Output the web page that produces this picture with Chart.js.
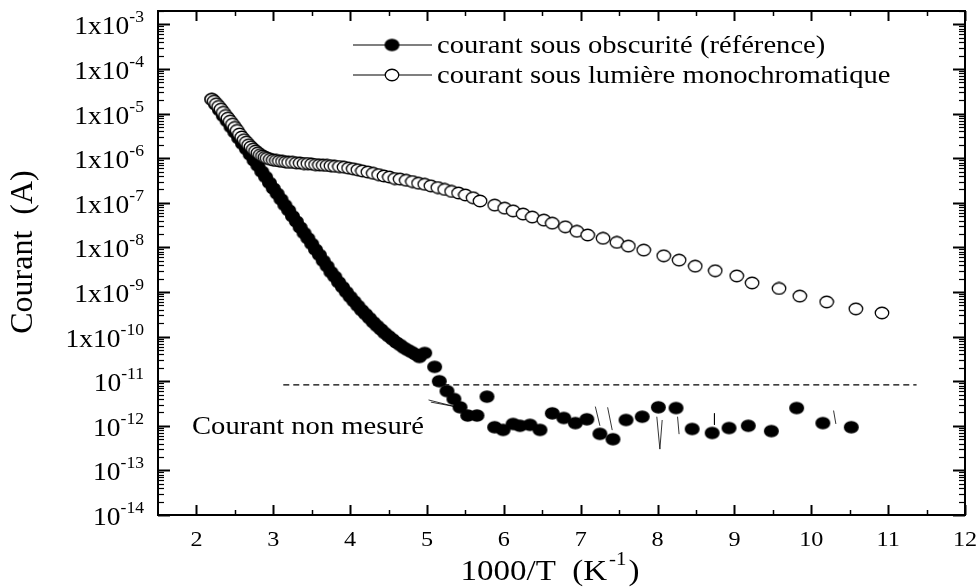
<!DOCTYPE html>
<html>
<head>
<meta charset="utf-8">
<script src="https://cdn.jsdelivr.net/npm/chart.js@4.4.1/dist/chart.umd.min.js"></script>
<style>
  html, body { margin: 0; padding: 0; background: #fff; }
  canvas { display: block; }
</style>
</head>
<body>
<canvas id="myChart" width="977" height="587"></canvas>
<script>
// 1000/T (K^-1) and current (A)
const darkX = [2.20, 2.25, 2.30, 2.35, 2.40, 2.45, 2.50, 2.55, 2.60, 2.65, 2.70, 2.75, 2.80, 2.85, 2.90, 2.95,
  3.00, 3.05, 3.10, 3.15, 3.20, 3.25, 3.30, 3.35, 3.40, 3.45, 3.50, 3.55, 3.60, 3.65, 3.70, 3.75,
  3.80, 3.85, 3.90, 3.95, 4.00, 4.05, 4.10, 4.15, 4.20, 4.25, 4.30, 4.35, 4.40, 4.45, 4.50, 4.55,
  4.60, 4.65, 4.70, 4.75, 4.80, 4.85, 4.90, 4.97,
  5.10, 5.16, 5.26, 5.35, 5.43, 5.53, 5.65, 5.78, 5.88, 5.99, 6.12, 6.21, 6.34, 6.47, 6.63, 6.78,
  6.93, 7.08, 7.25, 7.42, 7.59, 7.80, 8.01, 8.24, 8.45, 8.71, 8.93, 9.18, 9.48, 9.81, 10.15, 10.52];
const darkY = [2.1e-5, 1.6e-5, 1.2e-5, 8.9e-6, 6.8e-6, 5.0e-6, 3.8e-6, 2.8e-6, 2.1e-6, 1.6e-6, 1.2e-6, 8.9e-7, 6.8e-7, 5.0e-7, 3.8e-7, 2.8e-7,
  2.1e-7, 1.6e-7, 1.2e-7, 8.9e-8, 6.8e-8, 5.0e-8, 3.8e-8, 2.8e-8, 2.1e-8, 1.6e-8, 1.2e-8, 8.9e-9, 6.8e-9, 5.0e-9, 3.8e-9, 2.8e-9,
  2.2e-9, 1.66e-9, 1.29e-9, 1.0e-9, 7.8e-10, 6.2e-10, 4.9e-10, 3.9e-10, 3.2e-10, 2.6e-10, 2.1e-10, 1.74e-10, 1.45e-10, 1.2e-10, 1.02e-10, 8.7e-11,
  7.4e-11, 6.5e-11, 5.6e-11, 5.0e-11, 4.5e-11, 4.0e-11, 3.5e-11, 4.3e-11,
  2.1e-11, 1.0e-11, 6.0e-12, 4.0e-12, 2.6e-12, 1.7e-12, 1.7e-12, 4.5e-12, 9.3e-13, 8.1e-13, 1.1e-12, 1.0e-12, 1.05e-12, 8.1e-13, 1.9e-12, 1.5e-12,
  1.15e-12, 1.4e-12, 6.6e-13, 5.0e-13, 1.35e-12, 1.6e-12, 2.6e-12, 2.5e-12, 8.5e-13, 6.9e-13, 8.9e-13, 1.0e-12, 7.6e-13, 2.5e-12, 1.15e-12, 9.3e-13];

const lightX = [2.20, 2.23, 2.26, 2.29, 2.32, 2.35, 2.38, 2.41, 2.44, 2.47, 2.50, 2.53, 2.56, 2.59, 2.62, 2.65,
  2.68, 2.71, 2.74, 2.77, 2.80, 2.83, 2.86, 2.89, 2.92, 2.96, 3.00, 3.04, 3.08, 3.12, 3.16, 3.20,
  3.25, 3.30, 3.35, 3.40, 3.45, 3.50, 3.55, 3.60, 3.65, 3.70, 3.75, 3.80, 3.86, 3.92, 3.98, 4.04,
  4.10, 4.16, 4.23, 4.30, 4.37, 4.44, 4.51, 4.58, 4.65, 4.73, 4.81, 4.89, 4.97, 5.05, 5.14, 5.23,
  5.32, 5.41, 5.50, 5.60, 5.69, 5.88, 6.01, 6.12, 6.25, 6.37, 6.52, 6.63, 6.80, 6.95, 7.09, 7.29,
  7.47, 7.62, 7.82, 8.08, 8.28, 8.49, 8.75, 9.03, 9.23, 9.58, 9.85, 10.20, 10.58, 10.92];
const lightY = [2.1e-5, 1.9e-5, 1.66e-5, 1.45e-5, 1.26e-5, 1.07e-5, 9.1e-6, 7.9e-6, 6.8e-6, 5.8e-6, 4.9e-6, 4.2e-6, 3.5e-6, 3.0e-6, 2.6e-6, 2.3e-6,
  2.0e-6, 1.8e-6, 1.6e-6, 1.45e-6, 1.32e-6, 1.2e-6, 1.12e-6, 1.05e-6, 1.0e-6, 9.5e-7, 9.1e-7, 8.9e-7, 8.7e-7, 8.5e-7, 8.3e-7, 8.1e-7,
  8.1e-7, 7.9e-7, 7.8e-7, 7.6e-7, 7.6e-7, 7.4e-7, 7.2e-7, 7.1e-7, 7.0e-7, 6.9e-7, 6.8e-7, 6.6e-7, 6.5e-7, 6.3e-7, 6.0e-7, 5.8e-7,
  5.5e-7, 5.2e-7, 4.9e-7, 4.6e-7, 4.3e-7, 4.0e-7, 3.8e-7, 3.5e-7, 3.4e-7, 3.2e-7, 3.0e-7, 2.75e-7, 2.6e-7, 2.4e-7, 2.2e-7, 2.0e-7,
  1.8e-7, 1.66e-7, 1.5e-7, 1.3e-7, 1.1e-7, 8.9e-8, 7.6e-8, 6.6e-8, 5.6e-8, 4.8e-8, 4.1e-8, 3.5e-8, 2.9e-8, 2.3e-8, 1.9e-8, 1.6e-8,
  1.3e-8, 1.07e-8, 8.7e-9, 6.5e-9, 5.2e-9, 3.8e-9, 3.0e-9, 2.3e-9, 1.6e-9, 1.2e-9, 8.1e-10, 6.0e-10, 4.2e-10, 3.4e-10];

// thin noisy trace under the dark points, null breaks the line
const traceX = [5.02, 5.36, 5.05, null, 7.19, 7.25, null, 7.35, 7.41, null, 7.99, 8.03, 8.06, null,
  8.26, 8.28, null, 8.74, 8.74, null, 10.29, 10.32];
const traceY = [3.8e-12, 2.7e-12, 3.4e-12, null, 2.7e-12, 1.0e-12, null, 2.6e-12, 8.0e-13, null, 1.6e-12, 3.0e-13, 1.35e-12, null,
  1.6e-12, 6.5e-13, null, 1.9e-12, 1.05e-12, null, 2.2e-12, 1.1e-12];

// measurement floor
const limitX = [3.13, 11.37];
const limitY = [8.3e-12, 8.3e-12];

const xTicks = [2, 3, 4, 5, 6, 7, 8, 9, 10, 11, 12];
const xMinorTicks = [2.5, 3.5, 4.5, 5.5, 6.5, 7.5, 8.5, 9.5, 10.5, 11.5];
const yExponents = [-3, -4, -5, -6, -7, -8, -9, -10, -11, -12, -13, -14];
const legendLabels = ['courant sous obscurité (référence)', 'courant sous lumière monochromatique'];
const noteText = 'Courant non mesuré';
const yTitle = 'Courant  (A)';

const FONT = '"Liberation Serif", "Times New Roman", serif';
const SX = 1.1;

function makeDot(w, h, filled) {
  const c = document.createElement('canvas');
  c.width = Math.ceil(w) + 2;
  c.height = Math.ceil(h) + 2;
  const g = c.getContext('2d');
  g.beginPath();
  g.ellipse(c.width / 2, c.height / 2, w / 2, h / 2, 0, 0, Math.PI * 2);
  g.fillStyle = filled ? '#000' : '#fff';
  g.fill();
  if (!filled) {
    g.lineWidth = 1.3;
    g.strokeStyle = '#000';
    g.stroke();
  }
  return c;
}
const darkDot = makeDot(15, 12.5, true);
const openDot = makeDot(13.5, 11.5, false);

function pts(xs, ys) {
  return xs.map((x, i) => ({ x: x, y: ys[i] }));
}

function text(ctx, s, x, y, size, align) {
  ctx.save();
  ctx.font = size + 'px ' + FONT;
  ctx.textBaseline = 'alphabetic';
  ctx.textAlign = align || 'left';
  ctx.translate(x, y);
  ctx.scale(SX, 1);
  ctx.fillText(s, 0, 0);
  ctx.restore();
}
function textWidth(ctx, s, size) {
  ctx.font = size + 'px ' + FONT;
  return ctx.measureText(s).width * SX;
}

// frame, inward ticks, labels, legend and note
const decorations = {
  id: 'decorations',
  afterDraw(chart) {
    const ctx = chart.ctx;
    const xs = chart.scales.x, ys = chart.scales.y;
    const a = chart.chartArea;
    ctx.save();
    ctx.fillStyle = '#000';
    ctx.strokeStyle = '#000';

    // ticks
    function tick(x1, y1, x2, y2, w) {
      ctx.lineWidth = w;
      ctx.beginPath();
      ctx.moveTo(x1, y1);
      ctx.lineTo(x2, y2);
      ctx.stroke();
    }
    xTicks.forEach(v => {
      const px = Math.round(xs.getPixelForValue(v)) + 0.5;
      tick(px, a.bottom, px, a.bottom - 10, 2);
      tick(px, a.top, px, a.top + 10, 2);
    });
    xMinorTicks.forEach(v => {
      const px = Math.round(xs.getPixelForValue(v)) + 0.5;
      tick(px, a.bottom, px, a.bottom - 5, 1.5);
      tick(px, a.top, px, a.top + 5, 1.5);
    });
    yExponents.forEach(e => {
      const py = Math.round(ys.getPixelForValue(Math.pow(10, e))) + 0.5;
      tick(a.left, py, a.left + 12, py, 2);
      tick(a.right, py, a.right - 12, py, 2);
      for (let k = 2; k <= 9; k++) {
        const v = k * Math.pow(10, e);
        if (v > ys.max) continue;
        const pm = Math.round(ys.getPixelForValue(v)) + 0.5;
        tick(a.left, pm, a.left + 6, pm, 1.2);
        tick(a.right, pm, a.right - 6, pm, 1.2);
      }
    });

    // frame
    ctx.lineWidth = 2;
    ctx.strokeRect(a.left, a.top, a.right - a.left, a.bottom - a.top);

    // x tick labels
    xTicks.forEach(v => {
      text(ctx, String(v), xs.getPixelForValue(v), a.bottom + 31, 22, 'center');
    });

    // y tick labels with superscript exponent
    const labelRight = a.left - 14;
    yExponents.forEach(e => {
      const py = ys.getPixelForValue(Math.pow(10, e));
      const base = e >= -10 ? '1x10' : '10';
      const sup = String(e);
      const ws = textWidth(ctx, sup, 16);
      text(ctx, sup, labelRight - ws, py - 2, 16, 'left');
      text(ctx, base, labelRight - ws, py + 10, 25, 'right');
    });

    // axis titles
    ctx.save();
    ctx.translate(24, 252);
    ctx.rotate(-Math.PI / 2);
    ctx.font = '32px ' + FONT;
    ctx.textAlign = 'center';
    ctx.textBaseline = 'middle';
    ctx.fillText(yTitle, 0, 0);
    ctx.restore();

    const t1 = '1000/T  (K', t2 = '-1', t3 = ')';
    const w1 = textWidth(ctx, t1, 30), w2 = textWidth(ctx, t2, 19), w3 = textWidth(ctx, t3, 30);
    let tx = 550 - (w1 + w2 + 4 + w3) / 2;
    text(ctx, t1, tx, 580, 30, 'left');
    text(ctx, t2, tx + w1 + 2, 565, 19, 'left');
    text(ctx, t3, tx + w1 + w2 + 4, 580, 30, 'left');

    // legend
    const rows = [{ y: 45, dot: darkDot, label: legendLabels[0] }, { y: 75, dot: openDot, label: legendLabels[1] }];
    rows.forEach(r => {
      tick(353, r.y, 432, r.y, 1.2);
      ctx.drawImage(r.dot, 392 - r.dot.width / 2, r.y - r.dot.height / 2);
      text(ctx, r.label, 437, r.y + 8, 26, 'left');
    });

    // note below the floor line
    text(ctx, noteText, 192, 434, 26, 'left');
    ctx.restore();
  }
};

const ctx = document.getElementById('myChart').getContext('2d');
const myChart = new Chart(ctx, {
  type: 'scatter',
  data: {
    datasets: [{
      label: legendLabels[1],
      data: pts(lightX, lightY),
      pointStyle: openDot,
      showLine: false,
      order: 0
    }, {
      label: legendLabels[0],
      data: pts(darkX, darkY),
      pointStyle: darkDot,
      showLine: false,
      order: 1
    }, {
      label: 'trace',
      data: pts(traceX, traceY),
      showLine: true,
      borderColor: '#000',
      borderWidth: 0.8,
      pointRadius: 0,
      spanGaps: false,
      order: 2
    }, {
      label: 'limite',
      data: pts(limitX, limitY),
      showLine: true,
      borderColor: '#000',
      borderWidth: 1.2,
      borderDash: [6, 4],
      pointRadius: 0,
      order: 3
    }]
  },
  options: {
    responsive: false,
    devicePixelRatio: 1,
    animation: false,
    events: [],
    layout: { padding: { left: 158, right: 12, top: 11, bottom: 72 } },
    plugins: {
      legend: { display: false },
      tooltip: { enabled: false }
    },
    scales: {
      x: { type: 'linear', min: 1.5, max: 12, display: false },
      y: { type: 'logarithmic', min: 1e-14, max: 2e-3, display: false }
    }
  },
  plugins: [decorations]
});
</script>
</body>
</html>
